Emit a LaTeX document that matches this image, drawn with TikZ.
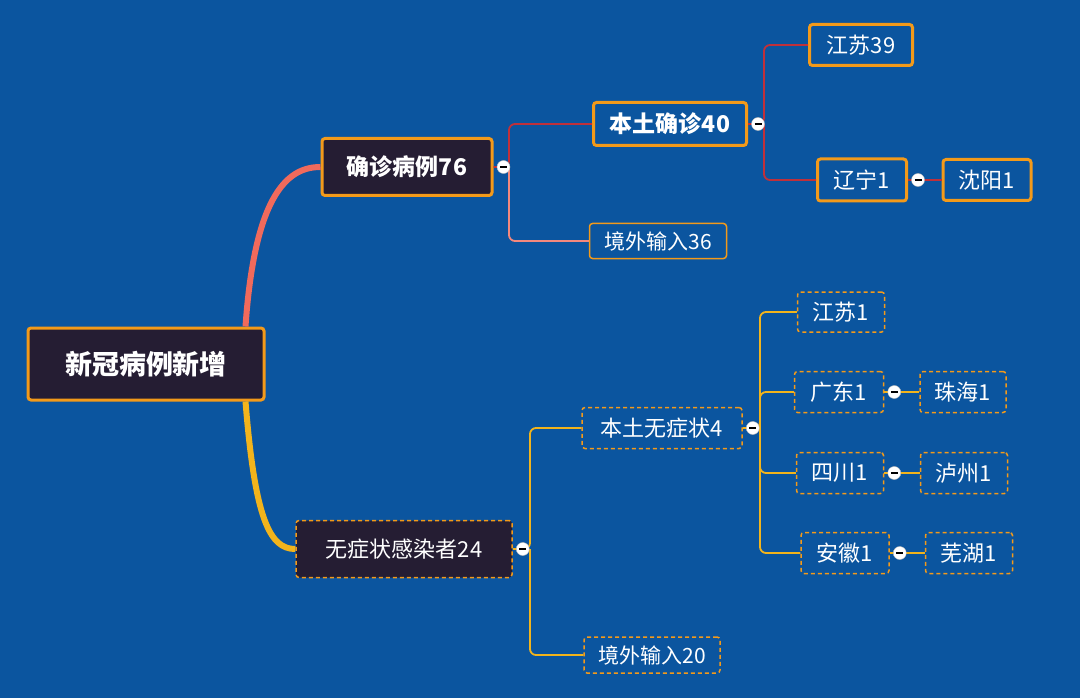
\documentclass[tikz,border=0pt]{standalone}
\usepackage{fontspec}
\setmainfont{Noto Sans CJK SC}
\usetikzlibrary{positioning}
\definecolor{bg}{HTML}{0B559F}
\definecolor{dark}{HTML}{251D33}
\definecolor{org}{HTML}{F39A1A}
\definecolor{redl}{HTML}{C0303A}
\definecolor{salm}{HTML}{F06A5C}
\definecolor{yel}{HTML}{F2B41C}
\tikzset{
  box/.style={draw=org, rounded corners=3pt, text=white, inner sep=0pt},
  big/.style={box, line width=3pt, font=\bfseries},
  thin/.style={box, line width=1.5pt},
  dbox/.style={box, line width=1.5pt, dash pattern=on 4pt off 3pt},
  knob/.style={circle, fill=white, draw=gray!50, inner sep=0pt, minimum size=13pt},
  link/.style={line width=1.8pt, rounded corners=6pt},
}
\begin{document}
\begin{tikzpicture}[x=1pt, y=-1pt]
\fill[bg] (0,0) rectangle (1080,698);
\useasboundingbox (0,0) rectangle (1080,698);
% main nodes
\node[big, fill=dark, minimum width=236pt, minimum height=72pt, font=\bfseries\fontsize{27}{27}\selectfont] (root) at (146,364) {新冠病例新增};
\node[big, fill=dark, minimum width=170pt, minimum height=57pt, font=\bfseries\fontsize{23}{23}\selectfont] (qz) at (407,167) {确诊病例76};
\node[dbox, fill=dark, minimum width=216pt, minimum height=57pt, font=\fontsize{22}{22}\selectfont] (wz) at (404,549) {无症状感染者24};
% confirmed branch
\node[big, fill=bg, minimum width=153pt, minimum height=43pt, font=\bfseries\fontsize{23}{23}\selectfont] (bt40) at (670,124) {本土确诊40};
\node[thin, minimum width=137pt, minimum height=35pt, font=\fontsize{21}{21}\selectfont] (jw36) at (658,241) {境外输入36};
\node[big, minimum width=103pt, minimum height=41pt, font=\fontsize{22}{22}\selectfont] (js39) at (861,45) {江苏39};
\node[big, minimum width=89pt, minimum height=42pt, font=\fontsize{22}{22}\selectfont] (ln1) at (862,180) {辽宁1};
\node[big, minimum width=88pt, minimum height=41pt, font=\fontsize{22}{22}\selectfont] (sy1) at (987,180) {沈阳1};
% asymptomatic branch
\node[dbox, minimum width=160pt, minimum height=41pt, font=\fontsize{22}{22}\selectfont] (bt4) at (662,428) {本土无症状4};
\node[dbox, minimum width=136pt, minimum height=36pt, font=\fontsize{21}{21}\selectfont] (jw20) at (652,655) {境外输入20};
\tikzset{every node/.append style={font=\fontsize{22}{22}\selectfont}}
\node[dbox, minimum width=87pt, minimum height=40pt] (js1) at (841,312) {江苏1};
\node[dbox, minimum width=89pt, minimum height=41pt] (gd1) at (839,392) {广东1};
\node[dbox, minimum width=86pt, minimum height=41pt] (zh1) at (963,392) {珠海1};
\node[dbox, minimum width=87pt, minimum height=41pt] (sc1) at (840,473) {四川1};
\node[dbox, minimum width=87pt, minimum height=41pt] (lz1) at (964,473) {泸州1};
\node[dbox, minimum width=88pt, minimum height=41pt] (ah1) at (845,553) {安徽1};
\node[dbox, minimum width=87pt, minimum height=41pt] (wh1) at (969,553) {芜湖1};
% trunk curves
\draw[salm, line width=6pt] (root.north east) ++(-20,0) coordinate (r1)
  (r1) .. controls (255,190) and (290,167) .. (qz.west);
\draw[yel, line width=6pt] (root.south east) ++(-20,0) coordinate (r2)
  (r2) .. controls (255,520) and (270,549) .. (wz.west);
% elbow links
\draw[link, redl] (qz.east) -- (509,167) |- (bt40.west);
\draw[link, salm!80] (509,167) |- (jw36.west);
\draw[link, redl] (bt40.east) -- (764,124) |- (js39.west);
\draw[link, redl] (764,124) |- (ln1.west);
\draw[link, redl] (ln1) -- (sy1);
\draw[link, yel] (wz.east) -- (530,549) |- (bt4.west);
\draw[link, yel] (530,549) |- (jw20.west);
\draw[link, yel] (bt4.east) -- (760,428) |- (js1.west);
\draw[link, yel] (760,428) |- (gd1.west);
\draw[link, yel] (760,428) |- (sc1.west);
\draw[link, yel] (760,428) |- (ah1.west);
\draw[link, yel] (gd1) -- (zh1);
\draw[link, yel] (sc1) -- (lz1);
\draw[link, yel] (ah1) -- (wh1);
% collapse knobs
\foreach \n in {qz, bt40, ln1, wz, bt4, gd1, sc1, ah1}
  \node[knob] at ([xshift=10pt]\n.east) {\rule{7pt}{1.2pt}};
\end{tikzpicture}
\end{document}
